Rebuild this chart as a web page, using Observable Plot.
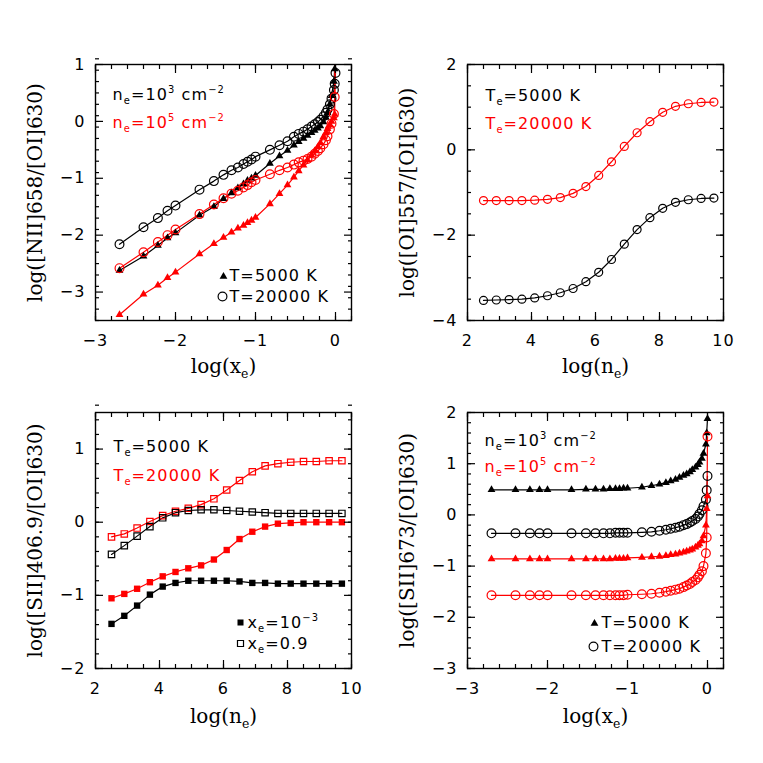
<!DOCTYPE html>
<html><head><meta charset="utf-8">
<script src="https://cdn.jsdelivr.net/npm/d3@7"></script>
<script src="https://cdn.jsdelivr.net/npm/@observablehq/plot@0.6"></script>
<style>
html,body{margin:0;padding:0;background:#fff;}
#root{position:relative;width:763px;height:763px;overflow:hidden;background:#fff;}
#root svg{position:absolute;}
</style></head><body><div id="root"></div>
<script>
// ---------- data ----------
// log(x_e) grid (panels a and d)
const logXe = [-2.70,-2.40,-2.22,-2.10,-2.00,-1.70,-1.52,-1.40,-1.30,-1.22,-1.15,-1.10,-1.05,-1.00,-0.82,-0.70,-0.60,-0.52,-0.46,-0.40,-0.35,-0.30,-0.26,-0.22,-0.19,-0.15,-0.12,-0.10,-0.07,-0.05,-0.02,-0.01,0.00];
// log([NII]658/[OI]630)
const nii_T5_n3  = [-2.62,-2.37,-2.18,-2.05,-1.96,-1.65,-1.50,-1.36,-1.26,-1.17,-1.10,-1.04,-1.00,-0.95,-0.74,-0.61,-0.51,-0.42,-0.36,-0.30,-0.25,-0.20,-0.16,-0.12,-0.08,-0.01,0.07,0.15,0.30,0.45,0.70,0.92,1.60];
const nii_T20_n3 = [-2.16,-1.86,-1.70,-1.57,-1.48,-1.20,-1.05,-0.94,-0.86,-0.81,-0.75,-0.71,-0.67,-0.62,-0.50,-0.42,-0.35,-0.27,-0.22,-0.18,-0.14,-0.09,-0.05,-0.01,0.03,0.09,0.15,0.21,0.30,0.40,0.55,0.66,0.85];
const nii_T5_n5  = [-3.40,-3.04,-2.88,-2.75,-2.65,-2.33,-2.15,-2.04,-1.95,-1.88,-1.83,-1.78,-1.74,-1.69,-1.45,-1.27,-1.12,-0.98,-0.87,-0.77,-0.68,-0.59,-0.52,-0.45,-0.38,-0.27,-0.20,-0.13,-0.06,0.00,0.06,0.12,1.60];
const nii_T20_n5 = [-2.58,-2.30,-2.12,-2.00,-1.90,-1.63,-1.46,-1.35,-1.27,-1.22,-1.16,-1.12,-1.07,-1.03,-0.93,-0.86,-0.81,-0.76,-0.72,-0.69,-0.66,-0.62,-0.57,-0.52,-0.47,-0.40,-0.33,-0.26,-0.14,-0.04,0.13,0.43,1.60];
// log([SII]673/[OI]630)
const sii673_T5_n3  = [0.49,0.49,0.49,0.49,0.49,0.49,0.50,0.50,0.50,0.51,0.51,0.51,0.52,0.52,0.54,0.57,0.60,0.63,0.66,0.69,0.73,0.77,0.80,0.84,0.88,0.93,0.98,1.03,1.10,1.20,1.38,1.60,1.88];
const sii673_T20_n3 = [-0.36,-0.36,-0.36,-0.36,-0.36,-0.36,-0.36,-0.36,-0.36,-0.36,-0.35,-0.35,-0.35,-0.35,-0.34,-0.33,-0.31,-0.29,-0.27,-0.25,-0.23,-0.20,-0.18,-0.15,-0.12,-0.08,-0.03,0.02,0.09,0.17,0.30,0.48,0.76];
const sii673_T5_n5  = [-0.86,-0.86,-0.86,-0.86,-0.86,-0.86,-0.86,-0.86,-0.86,-0.86,-0.85,-0.85,-0.85,-0.84,-0.83,-0.82,-0.81,-0.80,-0.78,-0.77,-0.75,-0.73,-0.71,-0.69,-0.67,-0.63,-0.60,-0.57,-0.51,-0.41,-0.20,0.12,0.37];
const sii673_T20_n5 = [-1.57,-1.57,-1.57,-1.57,-1.57,-1.57,-1.57,-1.57,-1.57,-1.57,-1.57,-1.57,-1.57,-1.56,-1.55,-1.54,-1.52,-1.50,-1.48,-1.46,-1.44,-1.41,-1.38,-1.35,-1.31,-1.27,-1.22,-1.17,-1.10,-1.00,-0.75,-0.44,1.53];
// log(n_e) grid (panels b and c)
const logNe = [2.5,2.9,3.3,3.7,4.1,4.5,4.9,5.3,5.7,6.1,6.5,6.9,7.3,7.7,8.1,8.5,8.9,9.3,9.7];
// log([OI]557/[OI]630)
const oi_T5  = [-3.53,-3.52,-3.51,-3.50,-3.47,-3.42,-3.35,-3.25,-3.09,-2.87,-2.57,-2.21,-1.87,-1.59,-1.37,-1.23,-1.17,-1.14,-1.13];
const oi_T20 = [-1.19,-1.19,-1.19,-1.19,-1.18,-1.16,-1.12,-1.02,-0.86,-0.60,-0.28,0.08,0.40,0.66,0.88,1.02,1.08,1.11,1.12];
// log([SII]406.9/[OI]630)
const sii406_x09_T20 = [-0.20,-0.16,-0.08,0.01,0.09,0.15,0.19,0.24,0.32,0.44,0.57,0.69,0.77,0.80,0.82,0.83,0.83,0.84,0.84];
const sii406_x09_T5  = [-0.44,-0.32,-0.19,-0.06,0.06,0.13,0.16,0.17,0.17,0.16,0.15,0.14,0.13,0.12,0.12,0.12,0.12,0.12,0.12];
const sii406_x3_T20  = [-1.04,-0.98,-0.91,-0.82,-0.74,-0.68,-0.63,-0.59,-0.51,-0.38,-0.23,-0.13,-0.06,-0.02,-0.01,0.00,0.00,0.00,0.00];
const sii406_x3_T5   = [-1.39,-1.28,-1.14,-0.99,-0.88,-0.83,-0.80,-0.80,-0.80,-0.80,-0.81,-0.83,-0.83,-0.84,-0.84,-0.84,-0.84,-0.84,-0.84];
// tick labels
const ticksXe = [-3,-2,-1,0];
const ticksNe = [2,4,6,8,10];
const ticksA = [-3,-2,-1,0,1];
const ticksB = [-4,-2,0,2];
const ticksC = [-2,-1,0,1];
const ticksD = [-3,-2,-1,0,1,2];

const RED = "#ff0000", BLACK = "#000000";

// ---------- helpers ----------
const fmt = d => (d < 0 ? "\u2212" + Math.abs(d) : String(d));
function minor(lo, hi, step) {
  const n = Math.round((hi - lo) / step);
  return d3.range(n + 1).map(i => +(lo + i * step).toFixed(4));
}

function richify(svg) {
  d3.select(svg).selectAll("text").each(function () {
    const t = this.textContent;
    if (!/[_^]\{/.test(t)) return;
    const fs = parseFloat(getComputedStyle(this).fontSize) || 16;
    const re = /([_^])\{([^}]*)\}|([^_^]+)/g;
    let m, cur = 0;
    const parts = [];
    while ((m = re.exec(t))) {
      if (m[3] !== undefined) parts.push({s: m[3], shift: 0, size: fs});
      else if (m[1] === "_") parts.push({s: m[2], shift: 0.28 * fs, size: 0.62 * fs});
      else parts.push({s: m[2], shift: -0.42 * fs, size: 0.62 * fs});
    }
    this.textContent = "";
    for (const p of parts) {
      const ts = document.createElementNS("http://www.w3.org/2000/svg", "tspan");
      ts.setAttribute("dy", (p.shift - cur).toFixed(2));
      ts.setAttribute("font-size", p.size.toFixed(2));
      ts.textContent = p.s;
      cur = p.shift;
      this.appendChild(ts);
    }
  });
  d3.select(svg).selectAll('g[font-family="DejaVu Serif"]').attr("letter-spacing", "0");
}

function build(p) {
  const marks = [];
  const data = p.series.map(s => p.x.map((x, i) => ({x, y: s.values[i]})));
  p.series.forEach((s, k) => marks.push(Plot.line(data[k], {x: "x", y: "y", stroke: s.color, strokeWidth: 1.2, clip: true})));
  p.series.forEach((s, k) => marks.push(Plot.dot(data[k], {
    x: "x", y: "y", symbol: s.symbol, r: s.r,
    fill: s.filled ? s.color : "none", stroke: s.filled ? "none" : s.color, strokeWidth: 1.2, clip: true
  })));
  const xm = minor(p.xDomain[0], p.xDomain[1], p.xMinorStep);
  const ym = minor(p.yDomain[0], p.yDomain[1], p.yMinorStep);
  for (const a of ["bottom", "top"]) {
    marks.push(Plot.axisX({ticks: p.xMajor, anchor: a, tickSize: -8, fill: "none", label: null, strokeWidth: 1.2}));
    marks.push(Plot.axisX({ticks: xm, anchor: a, tickSize: -4, fill: "none", label: null, strokeWidth: 1.2}));
  }
  for (const a of ["left", "right"]) {
    marks.push(Plot.axisY({ticks: p.yMajor, anchor: a, tickSize: -8, fill: "none", label: null, strokeWidth: 1.2}));
    marks.push(Plot.axisY({ticks: ym, anchor: a, tickSize: -4, fill: "none", label: null, strokeWidth: 1.2}));
  }
  marks.push(Plot.axisX({ticks: p.xMajor, anchor: "bottom", tickSize: 0, tickPadding: 14, tickFormat: fmt, label: null, fontSize: 16}));
  marks.push(Plot.axisY({ticks: p.yMajor, anchor: "left", tickSize: 0, tickPadding: 10, tickFormat: fmt, label: null, fontSize: 16}));
  marks.push(Plot.frame({stroke: BLACK, strokeWidth: 1.4}));
  // axis titles
  marks.push(Plot.text([p.ylabel], {frameAnchor: "left", textAnchor: "middle", rotate: -90, dx: -60, fontFamily: "DejaVu Serif", fontSize: 20}));
  marks.push(Plot.text([p.xlabel], {frameAnchor: "bottom", textAnchor: "middle", dy: p.xlabelDy, lineAnchor: "bottom", fontFamily: "DejaVu Serif", fontSize: 20}));
  // annotations
  for (const t of p.notes) {
    marks.push(Plot.text([t.t], {frameAnchor: "top-left", dx: t.dx, dy: t.dy, lineAnchor: "bottom", textAnchor: "start", fill: t.color, fontSize: 16}));
  }
  for (const l of p.legend) {
    marks.push(Plot.dot([0], {x: null, y: null, frameAnchor: "top-left", dx: l.sdx, dy: l.sdy, symbol: l.symbol, r: l.r,
      fill: l.filled ? BLACK : "none", stroke: l.filled ? "none" : BLACK, strokeWidth: 1.2}));
    marks.push(Plot.text([l.t], {frameAnchor: "top-left", dx: l.tdx, dy: l.tdy, lineAnchor: "bottom", textAnchor: "start", fill: BLACK, fontSize: 16}));
  }
  const svg = Plot.plot({
    width: p.pos[2], height: p.pos[3],
    marginLeft: p.m[0], marginRight: p.m[1], marginTop: p.m[2], marginBottom: p.m[3],
    x: {domain: p.xDomain}, y: {domain: p.yDomain},
    style: {fontFamily: "DejaVu Sans", fontSize: "16px", color: "black", background: "white", overflow: "visible", letterSpacing: "1.1px"},
    marks
  });
  svg.style.left = p.pos[0] + "px";
  svg.style.top = p.pos[1] + "px";
  document.getElementById("root").appendChild(svg);
  richify(svg);
}

const panels = [
  {
    pos: [0, 0, 381, 381], m: [95, 30, 64, 61],
    xDomain: [-3, 0.2], yDomain: [-3.5, 1], xMajor: ticksXe, yMajor: ticksA, xMinorStep: 0.2, yMinorStep: 0.2,
    ylabel: "log([NII]658/[OI]630)", xlabel: "log(x_{e})", xlabelDy: 52, x: logXe,
    series: [
      {values: nii_T5_n3, color: BLACK, symbol: "triangle", filled: true, r: 2.9},
      {values: nii_T20_n3, color: BLACK, symbol: "circle", filled: false, r: 4.4},
      {values: nii_T5_n5, color: RED, symbol: "triangle", filled: true, r: 2.9},
      {values: nii_T20_n5, color: RED, symbol: "circle", filled: false, r: 4.4}
    ],
    notes: [
      {t: "n_{e}=10^{3} cm^{\u22122}", dx: 17, dy: 35, color: BLACK},
      {t: "n_{e}=10^{5} cm^{\u22122}", dx: 17, dy: 63, color: RED}
    ],
    legend: [
      {symbol: "triangle", filled: true, r: 2.9, sdx: 128, sdy: 212, t: "T=5000 K", tdx: 134, tdy: 216},
      {symbol: "circle", filled: false, r: 4.4, sdx: 127, sdy: 232, t: "T=20000 K", tdx: 134, tdy: 237}
    ]
  },
  {
    pos: [381, 0, 382, 381], m: [86, 40, 64, 61],
    xDomain: [2, 10], yDomain: [-4, 2], xMajor: ticksNe, yMajor: ticksB, xMinorStep: 0.5, yMinorStep: 0.5,
    ylabel: "log([OI]557/[OI]630)", xlabel: "log(n_{e})", xlabelDy: 52, x: logNe,
    series: [
      {values: oi_T5, color: BLACK, symbol: "circle", filled: false, r: 4},
      {values: oi_T20, color: RED, symbol: "circle", filled: false, r: 4}
    ],
    notes: [
      {t: "T_{e}=5000 K", dx: 18, dy: 36, color: BLACK},
      {t: "T_{e}=20000 K", dx: 18, dy: 64, color: RED}
    ],
    legend: []
  },
  {
    pos: [0, 381, 381, 382], m: [95, 30, 31, 95],
    xDomain: [2, 10], yDomain: [-2, 1.5], xMajor: ticksNe, yMajor: ticksC, xMinorStep: 0.5, yMinorStep: 0.2,
    ylabel: "log([SII]406.9/[OI]630)", xlabel: "log(n_{e})", xlabelDy: 54, x: logNe,
    series: [
      {values: sii406_x09_T20, color: RED, symbol: "square", filled: false, r: 3.6},
      {values: sii406_x09_T5, color: BLACK, symbol: "square", filled: false, r: 3.6},
      {values: sii406_x3_T20, color: RED, symbol: "square", filled: true, r: 3.6},
      {values: sii406_x3_T5, color: BLACK, symbol: "square", filled: true, r: 3.6}
    ],
    notes: [
      {t: "T_{e}=5000 K", dx: 18, dy: 39, color: BLACK},
      {t: "T_{e}=20000 K", dx: 18, dy: 68, color: RED}
    ],
    legend: [
      {symbol: "square", filled: true, r: 3.4, sdx: 145, sdy: 210, t: "x_{e}=10^{\u22123}", tdx: 152, tdy: 215},
      {symbol: "square", filled: false, r: 3.4, sdx: 145, sdy: 231, t: "x_{e}=0.9", tdx: 152, tdy: 236}
    ]
  },
  {
    pos: [381, 381, 382, 382], m: [86, 40, 31, 95],
    xDomain: [-3, 0.2], yDomain: [-3, 2], xMajor: ticksXe, yMajor: ticksD, xMinorStep: 0.2, yMinorStep: 0.2,
    ylabel: "log([SII]673/[OI]630)", xlabel: "log(x_{e})", xlabelDy: 54, x: logXe,
    series: [
      {values: sii673_T5_n3, color: BLACK, symbol: "triangle", filled: true, r: 2.9},
      {values: sii673_T20_n3, color: BLACK, symbol: "circle", filled: false, r: 4.4},
      {values: sii673_T5_n5, color: RED, symbol: "triangle", filled: true, r: 2.9},
      {values: sii673_T20_n5, color: RED, symbol: "circle", filled: false, r: 4.4}
    ],
    notes: [
      {t: "n_{e}=10^{3} cm^{\u22122}", dx: 17, dy: 33, color: BLACK},
      {t: "n_{e}=10^{5} cm^{\u22122}", dx: 17, dy: 59, color: RED}
    ],
    legend: [
      {symbol: "triangle", filled: true, r: 2.9, sdx: 127, sdy: 211, t: "T=5000 K", tdx: 134, tdy: 215},
      {symbol: "circle", filled: false, r: 4.4, sdx: 126, sdy: 234, t: "T=20000 K", tdx: 134, tdy: 239}
    ]
  }
];

panels.forEach(build);
</script>
</body></html>
